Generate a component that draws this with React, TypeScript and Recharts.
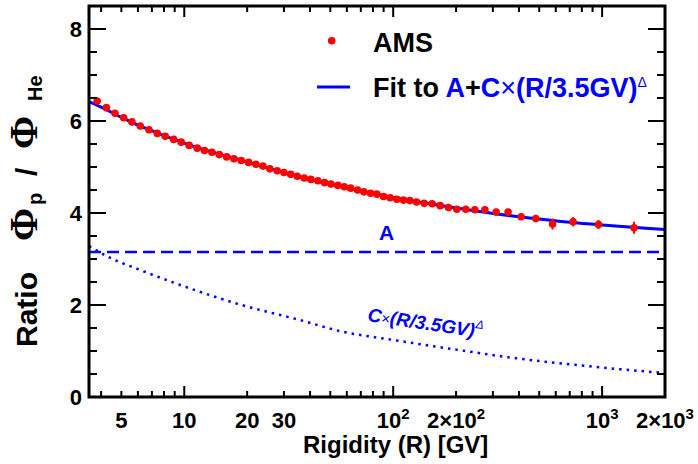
import React from "react";
import { ComposedChart, Line, Scatter, ErrorBar, XAxis, YAxis } from "recharts";

// AMS p/He flux ratio points (rigidity in GV)
const rigidity = [
  3.83, 4.24, 4.66, 5.13, 5.62, 6.16, 6.78, 7.43, 8.11, 8.9, 9.67, 10.56, 11.54,
  12.5, 13.57, 14.71, 15.96, 17.29, 18.74, 20.33, 22.03, 23.8, 25.7, 27.86,
  29.99, 32.29, 34.73, 37.52, 40.38, 43.62, 46.96, 50.35, 54.38, 58.3, 62.57,
  67.55, 72.4, 77.96, 83.56, 89.96, 96.7, 104.2, 112.1, 120.2, 129.4, 140.7,
  153.7, 167.9, 184.1, 201.7, 222.7, 246, 274.7, 311.1, 354.9, 409.7, 481.8,
  579, 726.3, 961.2, 1422,
];
const ratio = [
  6.435, 6.29, 6.17, 6.07, 5.98, 5.89, 5.81, 5.73, 5.67, 5.6, 5.54, 5.47, 5.41,
  5.36, 5.32, 5.27, 5.22, 5.18, 5.14, 5.1, 5.06, 5.02, 4.96, 4.92, 4.88, 4.84,
  4.8, 4.76, 4.73, 4.7, 4.66, 4.63, 4.6, 4.57, 4.54, 4.5, 4.46, 4.43, 4.41,
  4.36, 4.33, 4.3, 4.28, 4.27, 4.24, 4.21, 4.2, 4.16, 4.12, 4.08, 4.08, 4.07,
  4.07, 4.02, 4.02, 3.92, 3.88, 3.76, 3.81, 3.75, 3.68,
];
const ratioErr = [
  0.02, 0.02, 0.02, 0.02, 0.02, 0.02, 0.02, 0.02, 0.02, 0.02, 0.02, 0.02, 0.02,
  0.02, 0.02, 0.02, 0.02, 0.02, 0.02, 0.02, 0.02, 0.02, 0.02, 0.02, 0.02, 0.02,
  0.02, 0.02, 0.02, 0.02, 0.02, 0.02, 0.02, 0.02, 0.02, 0.02, 0.02, 0.02, 0.02,
  0.02, 0.03, 0.03, 0.03, 0.03, 0.03, 0.03, 0.03, 0.03, 0.03, 0.03, 0.04, 0.05,
  0.05, 0.06, 0.06, 0.07, 0.08, 0.12, 0.1, 0.1, 0.13,
];

// fit A + C x (R/3.5GV)^delta
const fitR = [3.5, 4, 5, 6, 7, 8, 10, 12, 15, 20, 25, 30, 40, 50, 70, 100, 150, 200, 300, 500, 700, 1000, 1500, 2000];
const fitV = [6.42, 6.3, 6.08, 5.91, 5.79, 5.68, 5.52, 5.4, 5.27, 5.11, 4.98, 4.88, 4.73, 4.63, 4.48, 4.34, 4.2, 4.11, 3.99, 3.87, 3.8, 3.74, 3.68, 3.64];

// C x (R/3.5GV)^delta term
const powR = [3.5, 4.4, 6, 9.5, 18.5, 36, 56, 100, 200, 390, 700, 1000, 2000];
const powV = [3.28, 3.03, 2.78, 2.44, 2.01, 1.67, 1.43, 1.24, 1.03, 0.84, 0.71, 0.64, 0.52];

// constant A
const constR = [3.5, 2000];
const constV = [3.15, 3.15];

const xTicks = [4, 5, 6, 7, 8, 9, 10, 20, 30, 40, 50, 60, 70, 80, 90, 100, 200, 300, 400, 500, 600, 700, 800, 900, 1000, 2000];
const xMajor = [10, 100, 1000];
const xLabels: Record<number, [string, string?]> = {
  5: ["5"],
  10: ["10"],
  20: ["20"],
  30: ["30"],
  100: ["10", "2"],
  200: ["2\u00d710", "2"],
  1000: ["10", "3"],
  2000: ["2\u00d710", "3"],
};
const yTicks = [0, 0.5, 1, 1.5, 2, 2.5, 3, 3.5, 4, 4.5, 5, 5.5, 6, 6.5, 7, 7.5, 8];
const yLabels = [0, 2, 4, 6, 8];

const amsData = rigidity.map((r, i) => ({ r, v: ratio[i], err: ratioErr[i] }));
const fitData = fitR.map((r, i) => ({ r, v: fitV[i] }));
const powData = powR.map((r, i) => ({ r, v: powV[i] }));
const constData = constR.map((r, i) => ({ r, v: constV[i] }));

const W = 698;
const H = 464;
const LEFT = 89;
const RIGHT = 665;
const TOP = 6;
const BOTTOM = 397;
const FONT = "'Liberation Sans', Arial, Helvetica, sans-serif";
const SERIF = "'Liberation Serif', 'Times New Roman', serif";
const BLUE = "#0000ff";
const RED = "#ff0000";

function BottomTick(props: any) {
  const { x, payload } = props;
  const v = payload.value;
  const len = xMajor.includes(v) ? 11 : 6;
  const lab = xLabels[v];
  return (
    <g>
      <line x1={x} x2={x} y1={BOTTOM} y2={BOTTOM - len} stroke="#000" strokeWidth={2} />
      {lab && (
        <text x={x} y={428} textAnchor="middle" fontFamily={FONT} fontWeight="bold" fontSize={22} fill="#000">
          {lab[0]}
          {lab[1] && (
            <tspan fontSize={15} dy={-9}>
              {lab[1]}
            </tspan>
          )}
        </text>
      )}
    </g>
  );
}

function TopTick(props: any) {
  const { x, payload } = props;
  const len = xMajor.includes(payload.value) ? 11 : 6;
  return <line x1={x} x2={x} y1={TOP} y2={TOP + len} stroke="#000" strokeWidth={2} />;
}

function LeftTick(props: any) {
  const { y, payload } = props;
  const major = yLabels.includes(payload.value);
  return (
    <g>
      <line x1={LEFT} x2={LEFT + (major ? 17 : 8)} y1={y} y2={y} stroke="#000" strokeWidth={2} />
      {major && (
        <text x={82} y={y + 8} textAnchor="end" fontFamily={FONT} fontWeight="bold" fontSize={22} fill="#000">
          {payload.value}
        </text>
      )}
    </g>
  );
}

function RightTick(props: any) {
  const { y, payload } = props;
  const major = yLabels.includes(payload.value);
  return <line x1={RIGHT} x2={RIGHT - (major ? 17 : 8)} y1={y} y2={y} stroke="#000" strokeWidth={2} />;
}

const Dot = (p: any) => <circle cx={p.cx} cy={p.cy} r={3.8} fill={RED} />;

export default function App() {
  return (
    <div style={{ position: "absolute", left: 0, top: 0, width: W, height: H, background: "#fff" }}>
      <ComposedChart width={W} height={H} margin={{ top: 5, right: 32, bottom: 27, left: 29 }}>
        <XAxis
          dataKey="r"
          type="number"
          scale="log"
          domain={[3.5, 2000]}
          allowDataOverflow
          ticks={xTicks}
          interval={0}
          height={40}
          tickLine={false}
          axisLine={false}
          tick={BottomTick}
        />
        <XAxis
          xAxisId="top"
          orientation="top"
          dataKey="r"
          type="number"
          scale="log"
          domain={[3.5, 2000]}
          allowDataOverflow
          ticks={xTicks}
          interval={0}
          height={1}
          tickLine={false}
          axisLine={false}
          tick={TopTick}
        />
        <YAxis
          dataKey="v"
          type="number"
          domain={[0, 8.5]}
          allowDataOverflow
          ticks={yTicks}
          interval={0}
          width={60}
          tickLine={false}
          axisLine={false}
          tick={LeftTick}
        />
        <YAxis
          yAxisId="right"
          orientation="right"
          type="number"
          domain={[0, 8.5]}
          allowDataOverflow
          ticks={yTicks}
          interval={0}
          width={1}
          tickLine={false}
          axisLine={false}
          tick={RightTick}
        />
        <Line data={constData} dataKey="v" type="linear" stroke={BLUE} strokeWidth={2.5} strokeDasharray="12 6" dot={false} isAnimationActive={false} />
        <Line data={powData} dataKey="v" type="monotone" stroke={BLUE} strokeWidth={2.5} strokeDasharray="2.5 5" dot={false} isAnimationActive={false} />
        <Line data={fitData} dataKey="v" type="monotone" stroke={BLUE} strokeWidth={3} dot={false} isAnimationActive={false} />
        <Scatter data={amsData} dataKey="v" shape={Dot} isAnimationActive={false}>
          <ErrorBar dataKey="err" direction="y" width={0} stroke={RED} strokeWidth={2} />
        </Scatter>
      </ComposedChart>
      <svg width={W} height={H} style={{ position: "absolute", left: 0, top: 0, pointerEvents: "none" }}>
        <rect x={LEFT} y={TOP} width={RIGHT - LEFT} height={BOTTOM - TOP} fill="none" stroke="#000" strokeWidth={3} />
        <circle cx={331.7} cy={40.7} r={3.8} fill={RED} />
        <text x={373} y={52} fontFamily={FONT} fontWeight="bold" fontSize={27} fill="#000">
          AMS
        </text>
        <line x1={317} x2={350} y1={87} y2={87} stroke={BLUE} strokeWidth={3} />
        <text x={373} y={97} fontFamily={FONT} fontWeight="bold" fontSize={27} fill="#000">
          Fit to <tspan fill={BLUE}>A</tspan>+<tspan fill={BLUE}>C</tspan>
          <tspan fill={BLUE} fontWeight="normal">{"\u00d7"}</tspan>
          <tspan fill={BLUE}>(R/3.5GV)</tspan>
          <tspan fill={BLUE} fontWeight="normal" fontSize={14} dy={-10}>
            {"\u0394"}
          </tspan>
        </text>
        <text x={379} y={240} fontFamily={FONT} fontWeight="bold" fontSize={21} fill={BLUE}>
          A
        </text>
        <text transform="translate(367,321) rotate(8.5)" fontFamily={FONT} fontWeight="bold" fontStyle="italic" fontSize={19} fill={BLUE}>
          C<tspan fontSize={15} fontWeight="normal">{"\u00d7"}</tspan>(R/3.5GV)
          <tspan fontSize={12} fontWeight="normal" dy={-9}>
            {"\u0394"}
          </tspan>
        </text>
        <text x={303} y={453} fontFamily={FONT} fontWeight="bold" fontSize={24} fill="#000">
          Rigidity (R) [GV]
        </text>
        <text transform="translate(37,347) rotate(-90)" fontFamily={FONT} fontWeight="bold" fontSize={30} fill="#000">
          <tspan x={0}>Ratio</tspan>
          <tspan x={106} fontFamily={SERIF} fontSize={40}>
            {"\u03a6"}
          </tspan>
          <tspan x={142} dy={5} fontSize={20}>
            p
          </tspan>
          <tspan x={171} dy={-5}>
            /
          </tspan>
          <tspan x={198} fontFamily={SERIF} fontSize={40}>
            {"\u03a6"}
          </tspan>
          <tspan x={246} dy={5} fontSize={20}>
            He
          </tspan>
        </text>
      </svg>
    </div>
  );
}
